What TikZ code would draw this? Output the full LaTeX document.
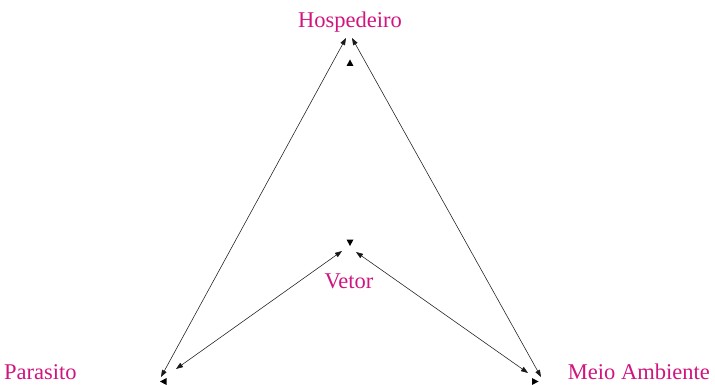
\documentclass[tikz,border=0pt]{standalone}
\usepackage{fontspec}
\setmainfont{Liberation Serif}
\usetikzlibrary{arrows.meta}
\definecolor{mag}{HTML}{D0157F}
\tikzset{
  lbl/.style={text=mag, font=\fontsize{22.5}{26}\selectfont, inner sep=0pt},
  link/.style={draw=black!90, line width=0.55pt, {Triangle[length=7pt,width=5pt]}-{Triangle[length=7pt,width=5pt]}},
  tipmark/.style={fill=black}
}
\begin{document}
\begin{tikzpicture}[x=1pt,y=-1pt]
\useasboundingbox (0,0) rectangle (715,385);
\node[lbl, anchor=base] (hosp) at (350,28) {Hospedeiro};
\node[lbl, anchor=base] (vetor) at (349,288) {Vetor};
\node[lbl, text depth=0pt, anchor=base west] (para) at (4,379.5) {Parasito};
\node[lbl, text depth=0pt, anchor=base east] (meio) at (710,379.5) {Meio Ambiente};
\coordinate (hL) at (346,38);
\coordinate (hR) at (352,38);
\coordinate (vL) at (342,251);
\coordinate (vR) at (356,252);
\coordinate (pH) at (161,377);
\coordinate (pV) at (176,369);
\coordinate (mV) at (528,373);
\coordinate (mH) at (541,377);
\draw[link] (pH) -- (hL);
\draw[link] (hR) -- (mH);
\draw[link] (pV) -- (vL);
\draw[link] (mV) -- (vR);
% stray small triangles
\fill[tipmark] (350,59.5) -- (353.5,66) -- (346.5,66) -- cycle;
\fill[tipmark] (350,246) -- (353.5,239.5) -- (346.5,239.5) -- cycle;
\fill[tipmark] (160,381.5) -- (166.5,378) -- (166.5,385) -- cycle;
\fill[tipmark] (538.5,381.5) -- (532,378) -- (532,385) -- cycle;
\end{tikzpicture}
\end{document}
